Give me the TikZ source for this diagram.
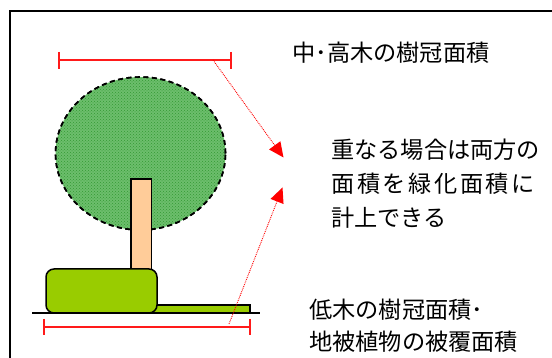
\documentclass[tikz,border=0pt]{standalone}
\usepackage{fontspec}
\newfontfamily\jpfont{Noto Sans CJK JP}
\usetikzlibrary{arrows.meta,patterns}
\definecolor{crownbase}{HTML}{6CBE6C}
\definecolor{crowndot}{HTML}{339933}
\definecolor{shrubgreen}{HTML}{99CC00}
\definecolor{trunkpeach}{HTML}{FFCC99}
\definecolor{barred}{HTML}{FF1A1A}
\newcommand{\gapch}{\hspace{2.6pt}}
\tikzset{
  frameline/.style={line width=2pt, black},
  crown/.style={fill=crownbase, draw=black, line width=1.6pt, dash pattern=on 5pt off 3.5pt},
  crowndots/.style={pattern=crosshatch dots, pattern color=crowndot},
  trunkbox/.style={fill=trunkpeach, draw=black, line width=1.3pt},
  shrubbox/.style={fill=shrubgreen, draw=black, line width=1.5pt, rounded corners=8pt},
  coverbox/.style={fill=shrubgreen, draw=black, line width=1.2pt},
  groundline/.style={line width=1.5pt, black},
  spanbar/.style={draw=barred, line width=1.2pt},
  pointer/.style={draw=red, line width=0.9pt, densely dotted,
    -{Triangle[length=15pt,width=14pt,fill=red,line width=0pt,sep=0pt]}},
  label/.style={font=\jpfont\fontsize{23.2pt}{27pt}\selectfont, anchor=west, inner sep=0pt}
}
\begin{document}
\begin{tikzpicture}[x=1pt,y=-1pt]
  \useasboundingbox (0,0) rectangle (552,358);
  \fill[white] (0,0) rectangle (552,358);

  % outer frame (only the top and left edges fall inside the page)
  \draw[frameline] (9.5,358) -- (9.5,11) -- (552,11);

  % crown of the tall tree
  \path[crown] (140.5,153.5) ellipse [x radius=85pt, y radius=76.5pt];
  \path[crowndots] (140.5,153.5) ellipse [x radius=84pt, y radius=75.5pt];
  \draw[crown, fill=none] (140.5,153.5) ellipse [x radius=85pt, y radius=76.5pt];

  % trunk
  \draw[trunkbox] (131,179) rectangle (151.5,280);

  % ground line, ground cover and shrub
  \draw[groundline] (32,313) -- (260,313);
  \draw[coverbox] (150,305) rectangle (250,313);
  \draw[shrubbox] (46,269) rectangle (157,313);

  % span of the tall tree crown
  \coordinate (topL) at (59,60);
  \coordinate (topR) at (231,60);
  \coordinate (topStart) at (213,60);
  \draw[spanbar] (topL) -- (topR);
  \draw[spanbar] (59,52) -- (59,69);
  \draw[spanbar] (231,52) -- (231,69);

  % span of the shrub and ground cover
  \coordinate (botL) at (44,327);
  \coordinate (botR) at (250,327);
  \coordinate (botStart) at (229,324);
  \draw[spanbar] (botL) -- (botR);
  \draw[spanbar] (44,319) -- (44,335);
  \draw[spanbar] (250,319) -- (250,335);

  % pointers towards the note
  \coordinate (tipA) at (283.5,157.5);
  \coordinate (tipB) at (282.5,187.5);
  \draw[pointer] (topStart) -- (tipA);
  \draw[pointer] (botStart) -- (tipB);

  % labels
  \node[label] (tall) at (292,53) {中･高木の樹冠面積};
  \node[label] (note1) at (331,150) {重なる場合は両方の};
  \node[label] (note2) at (331,184) {面\gapch 積\gapch を\gapch 緑\gapch 化\gapch 面\gapch 積\gapch に};
  \node[label] (note3) at (331,218) {計上できる};
  \node[label] (low1) at (309,310) {低木の樹冠面積･};
  \node[label] (low2) at (309,342) {地被植物の被覆面積};
\end{tikzpicture}
\end{document}
